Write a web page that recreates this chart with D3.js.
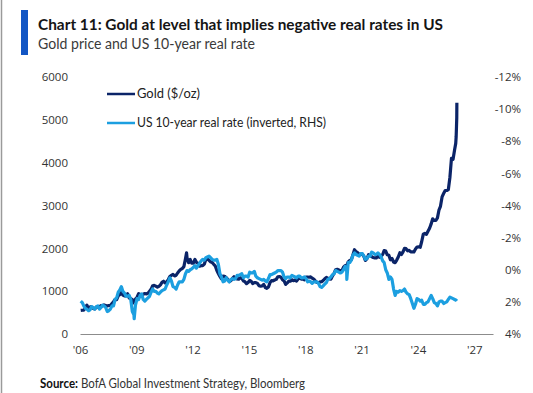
<!DOCTYPE html>
<html><head><meta charset="utf-8">
<script src="https://cdn.jsdelivr.net/npm/d3@7"></script>
<style>body{margin:0;background:#fff;} svg{display:block;}</style>
</head><body>
<svg id="c" width="533" height="393"></svg>
<script>
// ---------- DATA ----------
const startYear = 2006; // monthly series start Jan 2006
const goldMonthly = [
  550,555,557,610,675,596,633,632,598,585,627,629,          // 2006
  631,664,655,679,667,655,665,665,712,754,806,803,          // 2007
  889,922,968,909,888,889,939,839,829,806,760,816,          // 2008
  858,943,924,890,928,945,934,949,996,1043,1127,1134,       // 2009
  1118,1095,1113,1148,1205,1232,1193,1215,1271,1343,1370,1391, // 2010
  1356,1372,1424,1473,1510,1529,1573,1756,1772,1665,1739,1652, // 2011
  1656,1742,1673,1650,1585,1596,1594,1630,1745,1747,1721,1688, // 2012
  1670,1627,1593,1487,1414,1343,1286,1352,1348,1316,1275,1222, // 2013
  1244,1300,1336,1299,1287,1279,1311,1296,1239,1222,1176,1201, // 2014
  1250,1227,1179,1198,1199,1181,1128,1118,1125,1159,1086,1068, // 2015
  1097,1200,1246,1242,1260,1276,1337,1341,1326,1267,1238,1157, // 2016
  1192,1234,1231,1266,1246,1260,1236,1283,1314,1280,1283,1265, // 2017
  1331,1331,1325,1334,1303,1282,1238,1202,1199,1215,1220,1250, // 2018
  1291,1320,1300,1285,1283,1359,1413,1500,1510,1495,1471,1480, // 2019
  1560,1597,1591,1683,1716,1732,1846,1968,1922,1900,1866,1858, // 2020
  1867,1808,1718,1760,1850,1834,1807,1785,1775,1777,1821,1790, // 2021
  1817,1856,1948,1937,1849,1837,1733,1764,1681,1665,1726,1798, // 2022
  1898,1855,1912,1999,1992,1943,1951,1918,1916,1916,1985,2030, // 2023
  2035,2024,2160,2330,2350,2325,2400,2470,2570,2690,2650,2650, // 2024
  2710,2900,2980,3200,3280,3350,3350,3370,3660,4100,4080,4300  // 2025
];
const goldExtra = [
  ["2008-10-24", 720], ["2011-09-05", 1895],
  ["2026-01-06", 4450], ["2026-01-14", 4600], ["2026-01-21", 4850],
  ["2026-01-26", 5050], ["2026-01-28", 5400]
];
const realRateMonthly = [
  1.95,2.05,2.25,2.4,2.45,2.55,2.5,2.3,2.35,2.45,2.3,2.25,     // 2006
  2.45,2.35,2.2,2.25,2.35,2.6,2.55,2.45,2.25,2.25,1.85,1.75,   // 2007
  1.4,1.25,1.05,1.35,1.45,1.65,1.65,1.6,1.85,2.6,2.8,2.2,      // 2008
  1.8,1.85,1.6,1.5,1.85,1.95,1.85,1.75,1.65,1.4,1.2,1.35,      // 2009
  1.35,1.45,1.5,1.4,1.3,1.25,1.2,0.95,0.75,0.5,0.7,1.05,       // 2010
  1.1,1.2,0.95,0.75,0.75,0.75,0.6,0.25,0.05,0.1,0.0,-0.05,     // 2011
  -0.15,-0.25,-0.1,-0.25,-0.4,-0.55,-0.65,-0.6,-0.75,-0.8,-0.85,-0.75, // 2012
  -0.65,-0.6,-0.6,-0.65,-0.35,0.25,0.45,0.75,0.7,0.5,0.65,0.75, // 2013
  0.6,0.55,0.6,0.55,0.35,0.35,0.3,0.25,0.5,0.4,0.4,0.45,       // 2014
  0.15,0.2,0.2,0.1,0.4,0.5,0.55,0.6,0.65,0.6,0.7,0.75,         // 2015
  0.55,0.3,0.3,0.25,0.2,0.15,0.05,0.05,0.05,0.15,0.45,0.55,    // 2016
  0.45,0.45,0.5,0.35,0.4,0.45,0.5,0.4,0.4,0.5,0.5,0.45,        // 2017
  0.55,0.75,0.7,0.75,0.85,0.75,0.75,0.75,0.85,1.05,1.1,1.0,    // 2018
  0.9,0.8,0.6,0.55,0.45,0.3,0.25,0.05,0.1,0.15,0.2,0.15,       // 2019
  0.0,-0.2,-0.1,-0.45,-0.45,-0.6,-0.9,-1.05,-0.95,-0.9,-0.85,-1.0, // 2020
  -1.0,-0.85,-0.65,-0.7,-0.85,-0.85,-1.1,-1.05,-0.95,-0.95,-1.05,-0.95, // 2021
  -0.8,-0.55,-0.45,0.0,0.2,0.6,0.45,0.6,1.2,1.6,1.35,1.4,      // 2022
  1.3,1.35,1.3,1.2,1.4,1.5,1.55,1.8,2.1,2.4,2.15,1.8,          // 2023
  1.85,1.95,1.9,2.15,2.15,2.05,2.0,1.8,1.6,1.8,2.05,2.1,       // 2024
  2.25,2.0,1.95,1.95,2.1,2.05,2.0,1.85,1.7,1.75,1.8,1.85       // 2025
];
const realRateExtra = [
  ["2008-11-20", 3.05], ["2020-03-19", 0.6],
  ["2026-01-15", 1.9], ["2026-01-28", 1.95]
];
const xTickYears = [2006, 2009, 2012, 2015, 2018, 2021, 2024, 2027];
const goldTicks = [0, 1000, 2000, 3000, 4000, 5000, 6000];
const rateTicks = [4, 2, 0, -2, -4, -6, -8, -10, -12];
const titleText = "Chart 11: Gold at level that implies negative real rates in US";
const subtitleText = "Gold price and US 10-year real rate";
const sourceBold = "Source:";
const sourceRest = " BofA Global Investment Strategy, Bloomberg";
const legendLabels = ["Gold ($/oz)", "US 10-year real rate (inverted, RHS)"];

// ---------- BUILD ----------
const parse = d3.timeParse("%Y-%m-%d");
function buildSeries(monthly, extra) {
  const pts = monthly.map((v, i) => ({date: new Date(startYear, i, 15), value: v}));
  extra.forEach(([d, v]) => pts.push({date: parse(d), value: v}));
  return pts.sort((a, b) => a.date - b.date);
}
const gold = buildSeries(goldMonthly, goldExtra);
const rate = buildSeries(realRateMonthly, realRateExtra);

const svg = d3.select("#c");
const DARK = "#0b2468", LIGHT = "#1c9fe0";
const fontMain = "'Liberation Sans Narrow','Lato','Open Sans',sans-serif";
const fontTick = "'Open Sans','Lato',sans-serif";

const x = d3.scaleTime().domain([new Date(2006,0,1), new Date(2028,0,1)]).range([80, 493]);
const yG = d3.scaleLinear().domain([0, 6000]).range([334, 77]);
const yR = d3.scaleLinear().domain([4, -12]).range([334, 77]);

// frame line at left edge
svg.append("line").attr("x1",1.5).attr("x2",1.5).attr("y1",0).attr("y2",393)
  .attr("stroke","#9a9a9a").attr("stroke-width",1.5);

// title bar
svg.append("rect").attr("x",21).attr("y",10).attr("width",7).attr("height",45).attr("fill","#1256c4");

function fitText(sel, w) { sel.attr("textLength", w).attr("lengthAdjust","spacingAndGlyphs"); return sel; }

fitText(svg.append("text").attr("x",38).attr("y",30)
  .style("font-family",fontMain).style("font-weight","700").style("font-size","16px")
  .attr("fill","#151515").text(titleText), 405);
fitText(svg.append("text").attr("x",38).attr("y",48.5)
  .style("font-family",fontMain).style("font-weight","400").style("font-size","14.5px")
  .attr("fill","#3a3a3a").text(subtitleText), 217);

// axes
const gx = svg.append("g").attr("transform","translate(0,334)")
  .call(d3.axisBottom(x).tickValues(xTickYears.map(y => new Date(y,0,1)))
    .tickSize(0).tickPadding(12).tickFormat(d => "'" + d3.timeFormat("%y")(d)));
gx.select(".domain").attr("stroke","#8c8c8c").attr("stroke-width",1.2);
gx.selectAll("text").style("font-family",fontTick).style("font-size","11.5px").attr("fill","#333");

const gl = svg.append("g").attr("transform","translate(68,0)")
  .call(d3.axisLeft(yG).tickValues(goldTicks).tickSize(0).tickPadding(0).tickFormat(d3.format("d")));
gl.select(".domain").remove();
gl.selectAll("text").style("font-family",fontTick).style("font-size","11.5px").attr("fill","#333");

const gr = svg.append("g").attr("transform","translate(521,0)")
  .call(d3.axisRight(yR).tickValues(rateTicks).tickSize(0).tickPadding(0).tickFormat(d => d + "%"));
gr.select(".domain").remove();
gr.selectAll("text").attr("text-anchor","end").style("font-family",fontTick).style("font-size","11.5px").attr("fill","#333");

// lines
const lineG = d3.line().x(d => x(d.date)).y(d => yG(d.value)).curve(d3.curveLinear);
const lineR = d3.line().x(d => x(d.date)).y(d => yR(d.value)).curve(d3.curveLinear);
svg.append("path").datum(gold).attr("d", lineG).attr("fill","none")
  .attr("stroke", DARK).attr("stroke-width", 3.2).attr("stroke-linejoin","round");
svg.append("path").datum(rate).attr("d", lineR).attr("fill","none")
  .attr("stroke", LIGHT).attr("stroke-width", 3.2).attr("stroke-linejoin","round");

// legend
const legY = [94, 123];
const legC = [DARK, LIGHT];
const legW = [63, 189];
legendLabels.forEach((lab, i) => {
  svg.append("line").attr("x1",107).attr("x2",135).attr("y1",legY[i]).attr("y2",legY[i])
    .attr("stroke", legC[i]).attr("stroke-width", 2.5);
  fitText(svg.append("text").attr("x",137).attr("y",legY[i]+4.2)
    .style("font-family",fontMain).style("font-size","12.5px").attr("fill","#222").text(lab), legW[i]);
});

// source
const src = svg.append("text").attr("x",40).attr("y",387.5)
  .style("font-family",fontMain).style("font-size","12.5px").attr("fill","#333");
src.append("tspan").style("font-weight","700").attr("fill","#111").text(sourceBold);
src.append("tspan").text(sourceRest);
fitText(src, 265);
</script>
</body></html>
